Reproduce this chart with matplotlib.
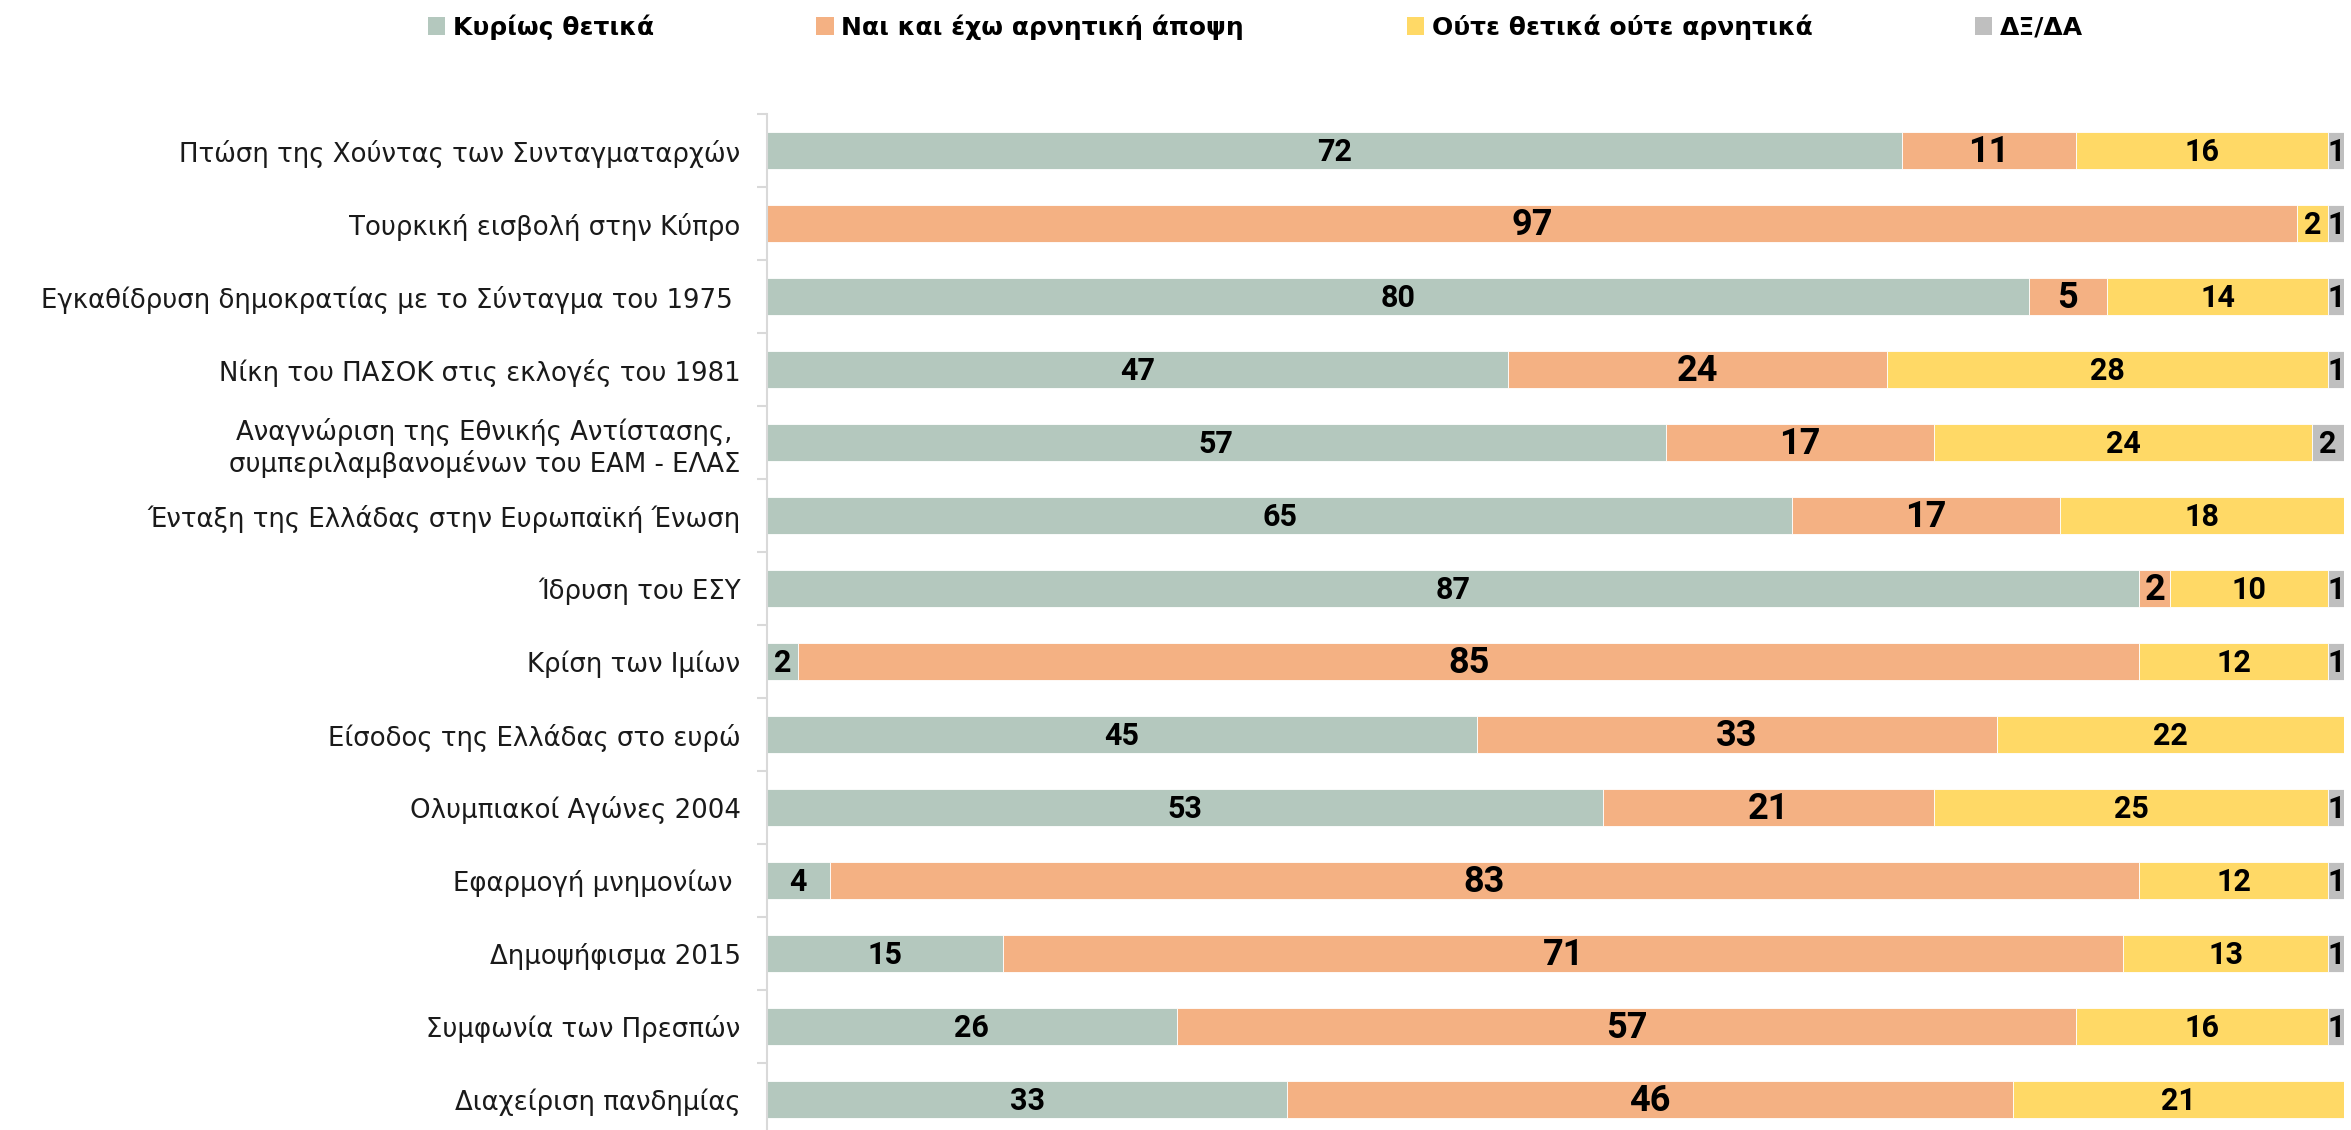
import numpy as np
import matplotlib
matplotlib.use('Agg')
import matplotlib.pyplot as plt
from matplotlib.patches import Patch

# data (percent)
categories = [
  'Πτώση της Χούντας των Συνταγματαρχών',
  'Τουρκική εισβολή στην Κύπρο',
  'Εγκαθίδρυση δημοκρατίας με το Σύνταγμα του 1975 ',
  'Νίκη του ΠΑΣΟΚ στις εκλογές του 1981',
  'Αναγνώριση της Εθνικής Αντίστασης, \nσυμπεριλαμβανομένων του ΕΑΜ - ΕΛΑΣ',
  'Ένταξη της Ελλάδας στην Ευρωπαϊκή Ένωση',
  'Ίδρυση του ΕΣΥ',
  'Κρίση των Ιμίων',
  'Είσοδος της Ελλάδας στο ευρώ',
  'Ολυμπιακοί Αγώνες 2004',
  'Εφαρμογή μνημονίων ',
  'Δημοψήφισμα 2015',
  'Συμφωνία των Πρεσπών',
  'Διαχείριση πανδημίας',
]
positive = [72, 0, 80, 47, 57, 65, 87, 2, 45, 53, 4, 15, 26, 33]
negative = [11, 97, 5, 24, 17, 17, 2, 85, 33, 21, 83, 71, 57, 46]
neutral = [16, 2, 14, 28, 24, 18, 10, 12, 22, 25, 12, 13, 16, 21]
dk_na = [1, 1, 1, 1, 2, 0, 1, 1, 0, 1, 1, 1, 1, 0]

series_names = ['Κυρίως θετικά', 'Ναι και έχω αρνητική άποψη',
                'Ούτε θετικά ούτε αρνητικά', 'ΔΞ/ΔΑ']
colors = ['#B4C8BE', '#F4B183', '#FFD966', '#BFBFBF']
label_sizes = [22, 26, 22, 22]

fig = plt.figure(figsize=(23.51, 11.30), dpi=100)
ax = fig.add_axes([0.3262, -0.0053, 0.6708, 0.9044])

y = np.arange(len(categories))
left = np.zeros(len(categories))
for vals, col, fs in zip([positive, negative, neutral, dk_na], colors, label_sizes):
  vals = np.array(vals, dtype=float)
  bars = ax.barh(y, vals, left=left, height=0.5, color=col,
                 edgecolor='white', linewidth=0.6)
  for b, v in zip(bars, vals):
    if v <= 0:
      continue
    ax.text(b.get_x() + b.get_width() / 2, b.get_y() + b.get_height() / 2 + 0.02,
            '%d' % v, ha='center', va='center', fontsize=fs,
            fontweight='bold', family='Roboto', color='black')
  left += vals

ax.set_xlim(0, 100)
ax.set_ylim(len(categories) - 0.5, -0.5)
ax.set_yticks(y)
ax.set_yticklabels(categories, fontsize=18.7, family='DejaVu Sans', color='#1a1a1a')
ax.set_yticks(np.arange(-0.5, len(categories)), minor=True)
ax.tick_params(axis='y', which='major', length=0, pad=19)
ax.tick_params(axis='y', which='minor', length=7, width=1.5, color='#D9D9D9')
ax.set_xticks([])
for s in ['top', 'right', 'bottom']:
  ax.spines[s].set_visible(False)
ax.spines['left'].set_color('#D9D9D9')
ax.spines['left'].set_linewidth(1.5)

handles = [Patch(facecolor=c, edgecolor='none') for c in colors]
fig.legend(handles, series_names, ncol=4, loc='center', bbox_to_anchor=(0.534, 0.976),
           frameon=False, prop={'family': 'DejaVu Sans', 'weight': 'bold', 'size': 18},
           handlelength=0.7, handleheight=0.7, handletextpad=0.3, columnspacing=6.5,
           borderpad=0)

fig.savefig('out.png', dpi=100)
